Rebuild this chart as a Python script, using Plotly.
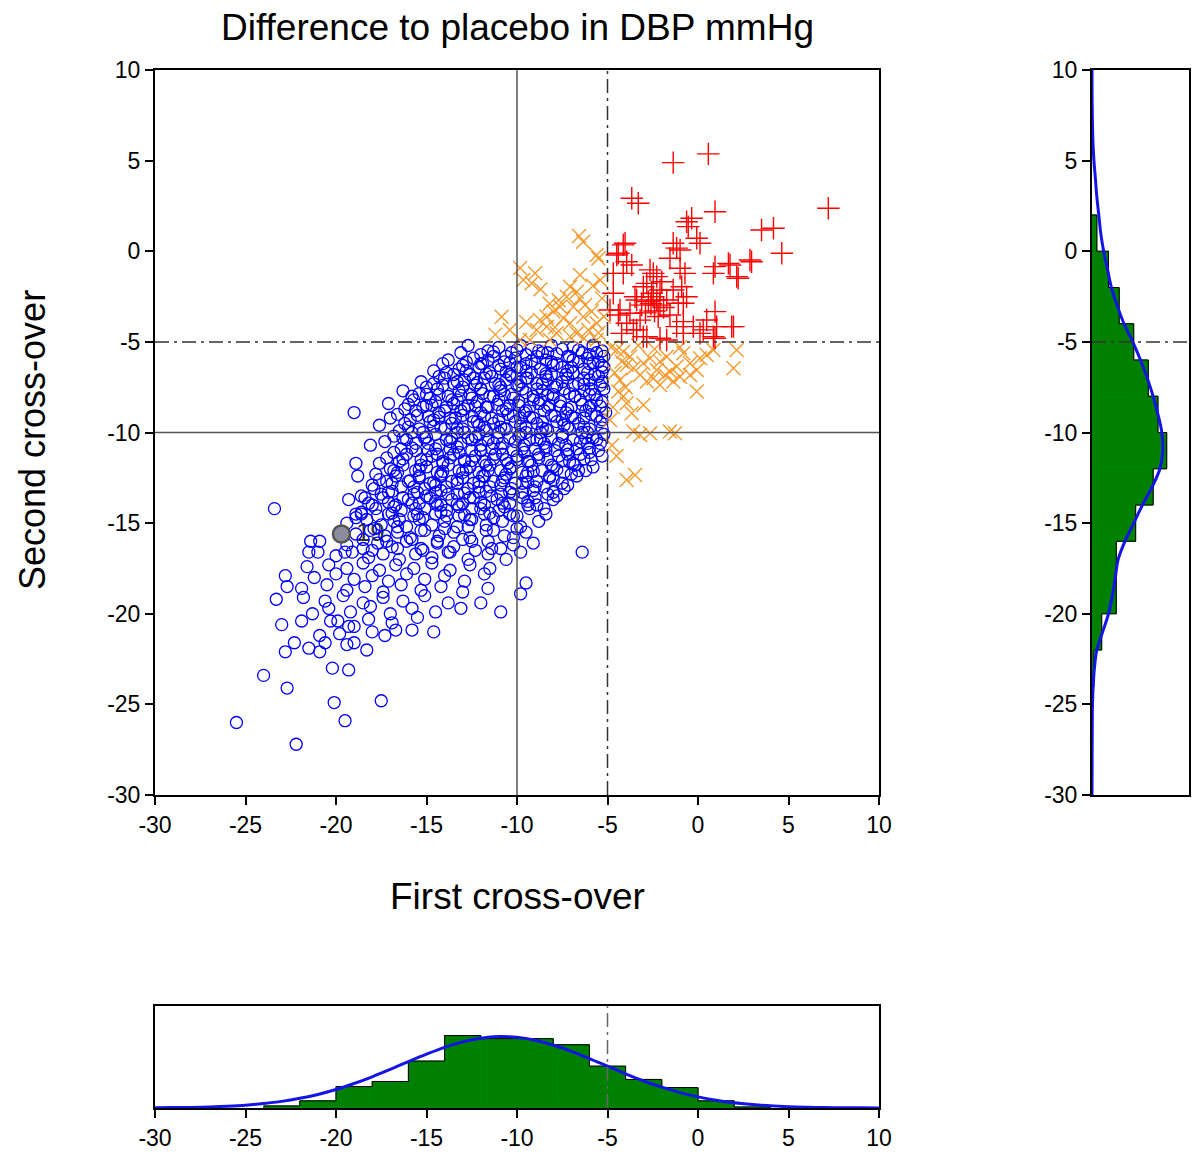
import plotly.graph_objects as go

# ---------------- data ----------------
blue_top = [
    (-12.7,-5.2),(-11.6,-5.5),(-11.0,-5.3),(-10.3,-5.6),(-9.8,-5.2),(-9.2,-5.4),(-8.6,-5.6),(-8.1,-5.2),(-7.5,-5.4),(-6.9,-5.3),(-6.4,-5.6),(-5.8,-5.2),(-5.3,-5.5),
    (-13.8,-6.0),(-12.4,-5.9),(-11.9,-6.2),(-11.3,-5.8),(-10.7,-6.1),(-10.1,-5.9),(-9.5,-6.2),(-8.9,-5.8),(-8.4,-6.0),(-7.8,-6.2),(-7.2,-5.8),(-6.6,-6.1),(-6.1,-5.9),(-5.5,-6.1),(-5.2,-5.8),
    (-14.6,-6.6),(-13.2,-6.5),(-12.6,-6.8),(-12.1,-6.4),(-11.5,-6.7),(-10.9,-6.5),(-10.4,-6.8),(-9.8,-6.4),(-9.2,-6.7),(-8.7,-6.5),(-8.1,-6.8),(-7.5,-6.4),(-6.9,-6.7),(-6.3,-6.5),(-5.7,-6.8),(-5.2,-6.4),
    (-15.3,-7.2),(-14.0,-7.0),(-13.5,-7.3),(-12.9,-7.1),(-12.3,-7.4),(-11.8,-7.0),(-11.2,-7.3),(-10.6,-7.1),(-10.0,-7.4),(-9.5,-7.0),(-8.9,-7.3),(-8.3,-7.1),(-7.8,-7.4),(-7.2,-7.0),(-6.6,-7.3),(-6.0,-7.1),(-5.4,-7.4),
    (-16.3,-7.7),(-15.0,-7.9),(-14.4,-7.6),(-13.8,-8.0),(-13.2,-7.7),(-12.6,-7.9),(-12.0,-7.6),(-11.5,-8.0),(-10.9,-7.7),(-10.3,-7.9),(-9.7,-7.6),(-9.1,-8.0),(-8.6,-7.7),(-8.0,-7.9),(-7.4,-7.6),(-6.8,-8.0),(-6.3,-7.7),(-5.7,-7.9),(-5.2,-7.6),
    (-17.1,-8.4),(-15.7,-8.2),(-15.0,-8.5),(-14.5,-8.3),(-13.9,-8.6),(-13.3,-8.2),(-12.7,-8.5),(-12.2,-8.3),(-11.6,-8.6),(-11.0,-8.2),(-10.4,-8.5),(-9.9,-8.3),(-9.3,-8.6),(-8.7,-8.2),(-8.2,-8.5),(-7.6,-8.3),(-7.0,-8.6),(-6.5,-8.2),(-5.9,-8.5),(-5.3,-8.3),
    (-19.0,-8.9),(-16.6,-9.0),(-15.6,-8.8),(-14.9,-9.1),(-14.3,-8.9),(-13.7,-9.2),(-13.1,-8.8),(-12.5,-9.1),(-12.0,-8.9),(-11.4,-9.2),(-10.8,-8.8),(-10.2,-9.1),(-9.6,-8.9),(-9.1,-9.2),(-8.5,-8.8),(-7.9,-9.1),(-7.3,-8.9),(-6.8,-9.2),(-6.2,-8.8),(-5.6,-9.1),(-5.1,-8.9),
    (-17.6,-9.6),(-16.2,-9.5),(-15.4,-9.8),(-14.8,-9.4),(-14.2,-9.7),(-13.6,-9.5),(-13.0,-9.8),(-12.4,-9.4),(-11.8,-9.7),(-11.3,-9.5),(-10.7,-9.8),(-10.1,-9.4),(-9.5,-9.7),(-8.9,-9.5),(-8.4,-9.8),(-7.8,-9.4),(-7.2,-9.7),(-6.6,-9.5),(-6.0,-9.8),(-5.4,-9.4),
]
blue_mid = [
    (-16.8,-10.2),(-15.8,-10.0),(-15.1,-10.3),(-14.5,-10.1),(-13.9,-10.4),(-13.3,-10.0),(-12.7,-10.3),(-12.1,-10.1),(-11.6,-10.4),(-11.0,-10.0),(-10.4,-10.3),(-9.8,-10.1),(-9.3,-10.4),(-8.7,-10.0),(-8.1,-10.3),(-7.5,-10.1),(-6.9,-10.4),(-6.4,-10.0),(-5.8,-10.3),(-5.2,-10.1),
    (-18.1,-10.7),(-16.4,-10.9),(-15.6,-10.6),(-14.9,-11.0),(-14.3,-10.7),(-13.7,-10.9),(-13.1,-10.6),(-12.5,-11.0),(-12.0,-10.7),(-11.4,-10.9),(-10.8,-10.6),(-10.2,-11.0),(-9.6,-10.7),(-9.0,-10.9),(-8.5,-10.6),(-7.9,-11.0),(-7.3,-10.7),(-6.7,-10.9),(-6.1,-10.6),(-5.5,-11.0),
    (-17.2,-11.4),(-16.1,-11.2),(-15.3,-11.5),(-14.7,-11.3),(-14.1,-11.6),(-13.5,-11.2),(-12.9,-11.5),(-12.3,-11.3),(-11.8,-11.6),(-11.2,-11.2),(-10.6,-11.5),(-10.0,-11.3),(-9.4,-11.6),(-8.8,-11.2),(-8.3,-11.5),(-7.7,-11.3),(-7.1,-11.6),(-6.5,-11.2),(-5.9,-11.5),(-5.3,-11.3),
    (-18.9,-11.7),(-17.0,-12.0),(-16.3,-11.8),(-15.6,-12.1),(-15.0,-11.9),(-14.4,-12.2),(-13.8,-11.8),(-13.2,-12.1),(-12.6,-11.9),(-12.1,-12.2),(-11.5,-11.8),(-10.9,-12.1),(-10.3,-11.9),(-9.7,-12.2),(-9.2,-11.8),(-8.6,-12.1),(-8.0,-11.9),(-7.4,-12.2),(-6.8,-11.8),(-6.2,-12.1),
    (-18.8,-12.4),(-17.6,-12.6),(-16.7,-12.4),(-16.0,-12.7),(-15.4,-12.5),(-14.8,-12.8),(-14.2,-12.4),(-13.6,-12.7),(-13.0,-12.5),(-12.4,-12.8),(-11.9,-12.4),(-11.3,-12.7),(-10.7,-12.5),(-10.1,-12.8),(-9.5,-12.4),(-8.9,-12.7),(-8.2,-12.5),(-7.5,-12.8),(-6.7,-12.4),
    (-17.9,-13.1),(-17.1,-13.3),(-16.4,-13.0),(-15.7,-13.4),(-15.1,-13.1),(-14.5,-13.3),(-13.9,-13.0),(-13.3,-13.4),(-12.7,-13.1),(-12.1,-13.3),(-11.5,-13.0),(-10.9,-13.4),(-10.3,-13.1),(-9.7,-13.3),(-9.0,-13.0),(-8.3,-13.4),(-7.4,-13.1),
    (-19.3,-13.7),(-18.2,-13.9),(-17.4,-13.6),(-16.7,-14.0),(-16.0,-13.7),(-15.4,-13.9),(-14.8,-13.6),(-14.2,-14.0),(-13.6,-13.7),(-13.0,-13.9),(-12.4,-13.6),(-11.8,-14.0),(-11.1,-13.7),(-10.4,-13.9),(-9.7,-13.6),(-8.9,-14.0),(-8.0,-13.7),
    (-18.6,-14.4),(-17.8,-14.2),(-17.1,-14.5),(-16.4,-14.3),(-15.7,-14.6),(-15.1,-14.2),(-14.5,-14.5),(-13.9,-14.3),(-13.2,-14.6),(-12.5,-14.2),(-11.8,-14.5),(-11.0,-14.3),(-10.2,-14.6),(-9.3,-14.2),(-8.4,-14.5),
    (-19.4,-15.0),(-18.3,-14.8),(-17.5,-15.1),(-16.8,-14.9),(-16.1,-15.2),(-15.4,-14.8),(-14.7,-15.1),(-14.0,-14.9),(-13.3,-15.2),(-12.5,-14.8),(-11.7,-15.1),(-10.8,-14.9),(-9.8,-15.2),(-8.8,-14.9),
]
blue_fill = [
    (-13.1,-5.6),(-12.0,-5.7),(-10.6,-5.8),(-9.5,-5.7),(-8.3,-5.6),(-7.1,-5.8),(-6.0,-5.7),
    (-14.1,-6.2),(-13.0,-6.3),(-12.0,-6.2),(-11.0,-6.3),(-10.0,-6.4),(-9.0,-6.2),(-8.0,-6.3),(-7.0,-6.4),(-6.0,-6.2),(-5.3,-6.3),
    (-14.3,-6.9),(-13.5,-6.8),(-12.4,-7.0),(-11.4,-6.9),(-10.3,-6.9),(-9.4,-7.0),(-8.4,-6.9),(-7.3,-6.8),(-6.3,-7.0),(-5.5,-6.9),
    (-15.0,-7.5),(-14.1,-7.4),(-13.0,-7.5),(-12.0,-7.6),(-10.9,-7.5),(-9.9,-7.4),(-8.9,-7.6),(-7.9,-7.5),(-6.9,-7.4),(-5.9,-7.6),
    (-15.8,-8.0),(-14.8,-8.1),(-13.6,-8.2),(-12.5,-8.1),(-11.3,-8.0),(-10.2,-8.1),(-9.1,-8.2),(-8.0,-8.1),(-6.8,-8.0),(-5.6,-8.2),
    (-16.2,-8.7),(-15.2,-8.6),(-14.0,-8.8),(-12.9,-8.7),(-11.7,-8.6),(-10.6,-8.7),(-9.5,-8.8),(-8.3,-8.6),(-7.2,-8.7),(-6.0,-8.6),
    (-17.0,-9.2),(-15.9,-9.3),(-14.6,-9.3),(-13.4,-9.2),(-12.2,-9.4),(-11.0,-9.3),(-9.8,-9.2),(-8.6,-9.4),(-7.5,-9.3),(-6.3,-9.2),(-5.3,-9.3),
    (-16.5,-9.9),(-15.2,-10.0),(-14.0,-9.8),(-12.9,-10.0),(-11.7,-9.9),(-10.6,-9.8),(-9.5,-10.0),(-8.3,-9.9),(-7.1,-9.8),(-6.1,-10.0),
    (-17.3,-10.5),(-16.1,-10.4),(-14.9,-10.6),(-13.7,-10.5),(-12.5,-10.4),(-11.3,-10.6),(-10.1,-10.5),(-8.9,-10.4),(-7.7,-10.6),(-6.5,-10.5),(-5.4,-10.6),
    (-16.8,-11.1),(-15.6,-11.0),(-14.4,-11.2),(-13.2,-11.1),(-12.0,-11.0),(-10.8,-11.2),(-9.6,-11.1),(-8.4,-11.0),(-7.2,-11.2),(-6.0,-11.1),
    (-17.6,-11.7),(-16.5,-11.6),(-15.3,-11.8),(-14.1,-11.7),(-12.9,-11.6),(-11.7,-11.8),(-10.5,-11.7),(-9.3,-11.6),(-8.1,-11.8),(-6.9,-11.7),(-5.8,-11.9),
    (-17.8,-12.3),(-16.6,-12.2),(-15.4,-12.4),(-14.2,-12.3),(-13.0,-12.2),(-11.8,-12.4),(-10.6,-12.3),(-9.4,-12.2),(-8.2,-12.4),(-7.0,-12.3),
    (-18.0,-12.9),(-16.9,-12.8),(-15.7,-13.0),(-14.5,-12.9),(-13.3,-12.8),(-12.1,-13.0),(-10.9,-12.9),(-9.7,-12.8),(-8.5,-13.0),(-7.2,-12.9),
    (-18.6,-13.5),(-17.5,-13.4),(-16.3,-13.6),(-15.0,-13.5),(-13.8,-13.4),(-12.6,-13.6),(-11.4,-13.5),(-10.2,-13.4),(-9.0,-13.6),(-7.8,-13.5),
    (-18.0,-14.0),(-16.8,-14.1),(-15.6,-14.2),(-14.4,-14.0),(-13.2,-14.1),(-12.0,-14.2),(-10.7,-14.1),(-9.4,-14.0),(-8.5,-14.2),
    (-18.9,-14.7),(-17.7,-14.6),(-16.5,-14.8),(-15.2,-14.7),(-13.9,-14.6),(-12.6,-14.8),(-11.3,-14.7),(-10.0,-14.6),
    (-17.9,-15.3),(-16.6,-15.2),(-15.3,-15.4),(-14.0,-15.3),(-12.7,-15.2),(-11.3,-15.4),(-10.0,-15.3),
    (-18.5,-15.9),(-17.2,-16.0),(-15.8,-15.9),(-14.4,-16.0),(-13.0,-15.9),(-11.6,-16.0),(-10.2,-15.8),
    (-19.5,-16.6),(-18.0,-16.5),(-16.6,-16.4),(-15.2,-16.5),(-13.8,-16.6),(-12.3,-16.5),(-10.9,-16.4),
]
blue_core = [
    (-11.3,-5.55),(-10.0,-5.45),(-8.8,-5.5),(-7.8,-5.65),(-6.6,-5.45),(-5.6,-5.6),
    (-12.8,-6.1),(-11.6,-6.0),(-10.4,-6.15),(-9.2,-6.05),(-8.1,-6.1),(-6.9,-6.0),(-5.8,-6.15),
    (-13.9,-6.7),(-12.8,-6.6),(-11.7,-6.75),(-10.6,-6.65),(-9.5,-6.6),(-8.4,-6.75),(-7.2,-6.6),(-6.1,-6.7),(-5.3,-6.65),
    (-14.6,-7.3),(-13.3,-7.2),(-12.2,-7.25),(-11.0,-7.35),(-9.8,-7.2),(-8.6,-7.3),(-7.5,-7.2),(-6.3,-7.35),(-5.3,-7.2),
    (-15.4,-7.85),(-14.3,-7.9),(-13.1,-7.95),(-11.9,-7.85),(-10.7,-7.9),(-9.5,-7.8),(-8.3,-7.95),(-7.1,-7.85),(-6.0,-7.9),
    (-16.0,-8.45),(-14.7,-8.5),(-13.5,-8.4),(-12.3,-8.55),(-11.1,-8.45),(-9.9,-8.5),(-8.8,-8.4),(-7.6,-8.55),(-6.4,-8.45),(-5.4,-8.55),
    (-15.5,-9.05),(-14.3,-9.15),(-13.0,-9.05),(-11.8,-9.1),(-10.5,-9.0),(-9.3,-9.15),(-8.1,-9.05),(-7.0,-9.1),(-5.9,-9.0),
    (-16.0,-9.7),(-14.6,-9.65),(-13.3,-9.75),(-12.1,-9.6),(-10.9,-9.7),(-9.8,-9.65),(-8.6,-9.75),(-7.4,-9.6),(-6.3,-9.7),(-5.3,-9.75),
    (-16.3,-10.3),(-15.0,-10.25),(-13.6,-10.35),(-12.3,-10.25),(-11.1,-10.3),(-9.9,-10.2),(-8.7,-10.35),(-7.5,-10.25),(-6.2,-10.3),(-5.6,-10.4),
    (-15.8,-10.85),(-14.5,-10.9),(-13.3,-10.8),(-12.0,-10.95),(-10.9,-10.85),(-9.7,-10.9),(-8.4,-10.8),(-7.2,-10.95),(-6.0,-10.85),
    (-16.3,-11.45),(-15.0,-11.5),(-13.7,-11.4),(-12.5,-11.55),(-11.3,-11.45),(-10.0,-11.5),(-8.8,-11.4),(-7.5,-11.55),(-6.3,-11.45),
    (-16.8,-12.1),(-15.4,-12.05),(-14.1,-12.15),(-12.8,-12.05),(-11.6,-12.1),(-10.4,-12.0),(-9.1,-12.15),(-7.8,-12.05),(-6.6,-12.1),
    (-17.2,-12.7),(-15.9,-12.65),(-14.6,-12.75),(-13.3,-12.6),(-12.1,-12.7),(-10.8,-12.65),(-9.4,-12.75),(-8.0,-12.6),
    (-16.9,-13.25),(-15.5,-13.3),(-14.2,-13.2),(-12.9,-13.35),(-11.7,-13.25),(-10.4,-13.3),(-9.1,-13.2),(-8.0,-13.3),
    (-17.1,-13.85),(-15.8,-13.9),(-14.5,-13.8),(-13.3,-13.95),(-12.0,-13.85),(-10.8,-13.9),(-9.4,-13.8),
    (-16.9,-14.45),(-15.5,-14.5),(-14.2,-14.4),(-12.9,-14.55),(-11.5,-14.45),(-10.4,-14.5),
]
blue_low = [
    (-18.9,-15.6),(-18.1,-15.4),(-17.3,-15.7),(-16.6,-15.5),(-15.9,-15.8),(-15.1,-15.4),(-14.3,-15.7),(-13.5,-15.5),(-12.6,-15.8),(-11.7,-15.4),(-10.7,-15.7),(-9.5,-15.5),
    (-21.4,-16.0),(-20.9,-16.0),(-21.5,-16.6),(-21.0,-16.6),(-19.4,-16.2),(-18.5,-16.4),(-17.7,-16.1),(-16.9,-16.3),(-16.1,-16.0),(-15.3,-16.4),(-14.4,-16.1),(-13.5,-16.3),(-12.5,-16.0),(-11.4,-16.4),(-10.2,-16.2),(-9.1,-16.1),
    (-20.0,-16.8),(-19.1,-16.6),(-18.2,-16.9),(-17.4,-16.7),(-16.5,-17.0),(-15.6,-16.7),(-14.7,-16.9),(-13.7,-16.6),(-12.7,-17.0),(-11.6,-16.7),(-10.6,-17.0),(-9.8,-16.6),(-6.4,-16.6),
    (-21.6,-17.4),(-20.4,-17.3),(-19.4,-17.5),(-18.5,-17.2),(-17.6,-17.6),(-16.7,-17.3),(-15.7,-17.5),(-14.7,-17.2),(-13.7,-17.6),(-12.6,-17.3),(-11.5,-17.5),
    (-22.8,-17.9),(-21.2,-18.0),(-20.0,-17.8),(-19.0,-18.1),(-18.0,-17.9),(-17.1,-18.2),(-16.1,-17.8),(-15.1,-18.1),(-14.0,-17.9),(-12.9,-18.2),(-11.8,-17.8),(-9.5,-18.3),
    (-22.7,-18.5),(-21.9,-18.6),(-20.5,-18.4),(-19.4,-18.7),(-18.4,-18.5),(-17.4,-18.8),(-16.4,-18.4),(-15.3,-18.7),(-14.2,-18.5),(-13.0,-18.8),(-11.6,-18.6),(-9.8,-18.9),
    (-23.3,-19.2),(-21.8,-19.1),(-20.6,-19.3),(-19.6,-19.0),(-18.5,-19.4),(-17.4,-19.1),(-16.3,-19.3),(-15.1,-19.0),(-13.8,-19.4),(-12.0,-19.4),(-10.9,-19.9),
    (-21.3,-20.0),(-20.4,-19.7),(-19.2,-19.9),(-18.1,-19.6),(-17.0,-20.0),(-15.8,-19.7),(-14.5,-19.9),(-13.1,-19.7),
    (-23.0,-20.6),(-21.9,-20.4),(-20.3,-20.4),(-19.9,-20.4),(-19.3,-20.7),(-19.0,-20.7),(-18.2,-20.3),(-16.9,-20.5),(-15.5,-20.2),
    (-19.8,-21.1),(-16.7,-20.9),(-15.8,-20.9),(-14.6,-21.0),(-18.0,-21.0),(-20.9,-21.2),(-17.3,-21.2),
    (-22.3,-21.6),(-21.5,-21.9),(-20.9,-22.1),(-20.6,-21.6),(-19.4,-21.7),(-19.0,-21.6),(-22.8,-22.1),(-18.3,-22.0),
]
blue_sparse = [
    (-20.2,-23.0),(-19.3,-23.1),(-24.0,-23.4),(-22.7,-24.1),(-20.1,-24.9),(-19.5,-25.9),(-17.5,-24.8),
    (-25.5,-26.0),(-22.2,-27.2),(-23.4,-14.2),(-18.4,-13.6),(-18.9,-14.5),(-18.6,-14.5),
]
highlight_point = (-19.7, -15.6)
highlight_label = "19"

orange_points = [
    (-6.57,0.84),(-6.35,0.53),(-5.6,-0.21),(-5.5,-0.4),(-9.83,-0.93),(-9.65,-1.59),(-9.19,-1.77),(-9.0,-1.22),
    (-6.52,-1.31),(-7.07,-1.96),(-6.7,-2.23),(-7.25,-2.51),(-6.52,-2.6),(-6.24,-2.97),(-6.89,-3.06),(-7.62,-3.06),
    (-7.99,-3.33),(-8.36,-3.61),(-8.73,-3.79),(-7.44,-3.7),(-7.07,-3.97),(-6.34,-3.61),(-5.88,-3.33),(-5.6,-3.97),
    (-6.06,-4.34),(-6.7,-4.53),(-7.07,-4.71),(-7.81,-4.53),(-10.85,-3.61),(-10.4,-4.34),(-9.83,-4.9),(-8.91,-4.34),
    (-8.36,-4.16),(-9.28,-4.9),(-8.18,-4.9),(-5.6,-4.9),(-8.7,-2.1),(-5.4,-1.6),(-5.3,-2.6),(-5.8,-1.9),(-7.7,-2.7),
    (-8.2,-2.9),(-7.9,-4.2),(-6.3,-4.8),(-5.2,-3.6),(-5.5,-4.5),(-9.5,-3.9),(-11.2,-4.6),
    (2.14,-5.45),(1.96,-6.46),(0.85,-5.45),(0.48,-5.72),(0.11,-5.9),(-0.07,-6.55),(-0.44,-6.83),(-0.07,-7.74),
    (-1.18,-6.36),(-1.55,-6.64),(-0.99,-6.92),(-1.36,-7.19),(-1.82,-6.83),(-2.28,-6.55),(-2.47,-7.01),(-2.1,-7.38),
    (-2.83,-7.19),(-3.2,-6.83),(-3.57,-6.46),(-3.94,-6.28),(-4.22,-6.09),(-4.49,-5.45),(-4.13,-5.54),(-3.76,-5.82),
    (-3.02,-6.18),(-2.65,-5.91),(-2.1,-6.09),(-1.73,-5.82),(-0.81,-5.63),(-0.44,-6.18),(-4.13,-8.02),(-4.4,-7.74),
    (-3.94,-8.39),(-3.02,-8.48),(-3.66,-8.94),(-4.86,-9.31),(-3.57,-9.95),(-3.2,-10.14),(-2.65,-10.04),(-1.55,-9.95),
    (-1.27,-10.04),(-3.94,-12.62),(-3.48,-12.34),(-4.31,-7.1),(-4.6,-6.7),(-4.8,-5.3),(-4.7,-8.6),(-4.75,-10.7),
    (-4.5,-11.3),(-2.4,-5.4),(-1.0,-5.3),(-3.3,-5.2),(-4.0,-7.5),
]
red_points = [
    (0.57,5.37),(-1.37,4.89),(-3.66,2.92),(-3.3,2.65),(0.94,2.18),(7.2,2.37),(-0.63,1.63),(-0.54,1.36),(-0.35,1.82),
    (-0.07,0.72),(3.51,1.17),(4.17,1.27),(4.63,-0.11),(2.96,-0.58),(-4.03,0.44),(-4.4,-0.11),(-3.94,-0.58),(-3.66,-0.76),
    (-1.37,0.44),(-1.18,0.17),(-1.55,-0.39),(-0.99,-0.94),(-0.72,-1.22),(0.94,-0.85),(0.85,-1.22),(1.77,-0.76),(2.22,-1.49),
    (-2.65,-1.03),(-2.28,-1.4),(-2.0,-1.68),(-3.02,-1.96),(-2.56,-2.32),(-2.28,-2.69),(-2.74,-2.78),(-2.1,-2.97),(-3.11,-2.97),
    (-3.48,-2.51),(-1.37,-2.14),(-0.9,-1.96),(-0.63,-2.51),(-1.09,-2.87),(-4.68,-2.32),(-4.86,-3.24),(-4.4,-3.52),(-3.94,-3.97),
    (-3.57,-4.34),(-4.22,-4.53),(-1.55,-3.52),(-0.81,-3.88),(-0.26,-4.16),(0.11,-4.53),(0.48,-3.79),(0.94,-3.33),(1.86,-4.16),
    (-3.02,-4.71),(-2.1,-4.8),(-1.73,-4.9),(0.94,-4.8),(-4.13,0.35),(-4.49,-0.21),(-4.13,-1.22),(-4.68,-1.22),(-0.99,0.07),
    (0.11,0.44),(1.68,-0.67),(2.14,-1.4),(-2.47,-1.22),(-2.83,-1.77),(-2.1,-2.14),(-2.47,-2.51),(-1.73,-2.69),(-0.81,-2.87),
    (-4.31,-3.24),(-3.76,-3.42),(-3.39,-2.69),(-3.39,-4.34),(-2.83,-4.71),(-1.18,-4.16),(-0.81,-4.53),(0.29,-4.34),(0.85,-4.71),
    (1.03,-4.16),(1.96,-4.16),(2.87,-0.48),(-2.6,-2.9),(-2.4,-3.3),(-2.9,-3.4),(-2.2,-3.6),(-1.9,-3.1),(-3.2,-3.8),
]

# histogram of first cross-over (bottom): bin edges and relative heights
first_edges = [-24, -22, -20, -18, -16, -14, -12, -10, -8, -6, -4, -2, 0, 2, 4]
first_heights = [0.02, 0.07, 0.21, 0.26, 0.46, 0.71, 0.68, 0.68, 0.62, 0.41, 0.28, 0.20, 0.07, 0.01]
first_curve_x = list(range(-30, 11))
first_curve_y = [0.002,0.004,0.006,0.011,0.018,0.028,0.044,0.065,0.095,0.133,0.181,0.240,0.306,0.379,0.455,
                 0.528,0.595,0.648,0.684,0.700,0.693,0.665,0.618,0.556,0.485,0.410,0.335,0.265,0.204,0.151,
                 0.109,0.076,0.051,0.034,0.021,0.013,0.008,0.004,0.003,0.002,0.001]

# histogram of second cross-over (right)
second_edges = [-24, -22, -20, -18, -16, -14, -12, -10, -8, -6, -4, -2, 0, 2]
second_heights = [0.02, 0.10, 0.25, 0.25, 0.45, 0.63, 0.77, 0.68, 0.58, 0.43, 0.28, 0.17, 0.05]
second_curve_y = [10, 8, 6, 5, 4, 3, 2, 1, 0, -1, -2, -3, -4, -5, -6, -7, -8, -9, -10, -11, -12, -13, -14,
                  -15, -16, -17, -18, -19, -20, -21, -22, -23, -24, -25, -27, -30]
second_curve_x = [0.0, 0.002, 0.01, 0.02, 0.035, 0.05, 0.07, 0.09, 0.12, 0.16, 0.20, 0.26, 0.33, 0.42, 0.50,
                  0.57, 0.63, 0.68, 0.72, 0.73, 0.70, 0.62, 0.52, 0.43, 0.34, 0.27, 0.24, 0.21, 0.17, 0.11,
                  0.05, 0.025, 0.012, 0.005, 0.002, 0.0]

ticks = [-30, -25, -20, -15, -10, -5, 0, 5, 10]
tick_labels = ["-30", "-25", "-20", "-15", "-10", "-5", "0", "5", "10"]
title_text = "Difference to placebo in DBP mmHg"
x_title = "First cross-over"
y_title = "Second cross-over"

# ---------------- figure ----------------
OX, OY = 8, 8          # page offset of the plot div
W, H = 1183, 1148      # keeps the page within the window (no scrollbars)
FONT = "Liberation Sans, Arial, sans-serif"
BLUE = "#0000FF"
ORANGE = "#F39A2E"
RED = "#FF0000"
GREEN = "#008000"

def px_x(p):
    return min(1.0, max(0.0, (p - OX) / W))

def px_y(p):
    return min(1.0, max(0.0, 1 - (p - OY) / H))

main_xd = [px_x(155), px_x(879)]
main_yd = [px_y(795), px_y(70)]
right_xd = [px_x(1092), px_x(1189)]
bottom_yd = [px_y(1108), px_y(1006)]

fig = go.Figure()

# partially hidden label under the circles
fig.add_trace(go.Scatter(x=[highlight_point[0] + 0.8], y=[highlight_point[1]], mode="text",
                         text=[highlight_label], textposition="middle right",
                         textfont=dict(family=FONT, size=26, color="#333333"),
                         hoverinfo="skip", showlegend=False))

blue_all = blue_top + blue_fill + blue_core + blue_mid + blue_low + blue_sparse
fig.add_trace(go.Scatter(x=[p[0] for p in blue_all], y=[p[1] for p in blue_all], mode="markers",
                         marker=dict(symbol="circle-open", size=12, color=BLUE, line=dict(width=1.3, color=BLUE)),
                         showlegend=False))
fig.add_trace(go.Scatter(x=[highlight_point[0]], y=[highlight_point[1]], mode="markers",
                         marker=dict(symbol="circle", size=17, color="#8C8C9C", line=dict(width=2.5, color="#555555")),
                         showlegend=False))
fig.add_trace(go.Scatter(x=[p[0] for p in orange_points], y=[p[1] for p in orange_points], mode="markers",
                         marker=dict(symbol="x-thin-open", size=14, color=ORANGE, line=dict(width=1.4, color=ORANGE)),
                         showlegend=False))
fig.add_trace(go.Scatter(x=[p[0] for p in red_points], y=[p[1] for p in red_points], mode="markers",
                         marker=dict(symbol="cross-thin-open", size=16, color=RED, line=dict(width=1.4, color=RED)),
                         showlegend=False))

# bottom histogram
fc = [(first_edges[i] + first_edges[i + 1]) / 2 for i in range(len(first_heights))]
fig.add_trace(go.Bar(x=fc, y=first_heights, width=2, marker=dict(color=GREEN, line=dict(width=1, color=GREEN)),
                     xaxis="x3", yaxis="y3", showlegend=False))
fig.add_trace(go.Scatter(x=first_edges, y=first_heights + [0], mode="lines", line=dict(shape="hv", color="black", width=1),
                         xaxis="x3", yaxis="y3", showlegend=False))
fig.add_trace(go.Scatter(x=first_curve_x, y=first_curve_y, mode="lines", line=dict(color="#1414E6", width=3, shape="spline"),
                         xaxis="x3", yaxis="y3", showlegend=False))

# right histogram
sc = [(second_edges[i] + second_edges[i + 1]) / 2 for i in range(len(second_heights))]
fig.add_trace(go.Bar(y=sc, x=second_heights, width=2, orientation="h", marker=dict(color=GREEN, line=dict(width=1, color=GREEN)),
                     xaxis="x2", yaxis="y2", showlegend=False))
fig.add_trace(go.Scatter(x=second_heights + [0], y=second_edges, mode="lines", line=dict(shape="vh", color="black", width=1),
                         xaxis="x2", yaxis="y2", showlegend=False))
fig.add_trace(go.Scatter(x=second_curve_x, y=second_curve_y, mode="lines", line=dict(color="#1414E6", width=3, shape="spline"),
                         xaxis="x2", yaxis="y2", showlegend=False))

axis_common = dict(showgrid=False, zeroline=False, showline=True, linecolor="black", linewidth=2, mirror=True,
                   automargin=False, tickfont=dict(family=FONT, size=23, color="black"))
tick_common = dict(tickvals=ticks, ticktext=tick_labels, ticks="outside", ticklen=8, tickwidth=2, tickcolor="black")

fig.update_layout(
    width=W, height=H, margin=dict(l=0, r=0, t=0, b=0, pad=0, autoexpand=False),
    paper_bgcolor="white", plot_bgcolor="white", showlegend=False, barmode="overlay",
    xaxis=dict(domain=main_xd, range=[-30, 10], anchor="y", **tick_common, **axis_common),
    yaxis=dict(domain=main_yd, range=[-30, 10], anchor="x", **tick_common, **axis_common),
    xaxis2=dict(domain=right_xd, range=[0, 1], showticklabels=False, ticks="", anchor="y2", **axis_common),
    yaxis2=dict(domain=main_yd, range=[-30, 10], anchor="x2", **tick_common, **axis_common),
    xaxis3=dict(domain=main_xd, range=[-30, 10], anchor="y3", **tick_common, **axis_common),
    yaxis3=dict(domain=bottom_yd, range=[0, 1], showticklabels=False, ticks="", anchor="x3", **axis_common),
)

# reference lines
DD = "14px,5px,3px,5px"
line_solid = dict(color="#555555", width=1.5)
line_dd = dict(color="#333333", width=1.5, dash=DD)
fig.add_shape(type="line", xref="x", yref="y", x0=-10, x1=-10, y0=-30, y1=10, line=line_solid, layer="above")
fig.add_shape(type="line", xref="x", yref="y", x0=-30, x1=10, y0=-10, y1=-10, line=line_solid, layer="above")
fig.add_shape(type="line", xref="x", yref="y", x0=-5, x1=-5, y0=-30, y1=10, line=line_dd, layer="above")
fig.add_shape(type="line", xref="x", yref="y", x0=-30, x1=10, y0=-5, y1=-5, line=line_dd, layer="above")
fig.add_shape(type="line", xref="x2", yref="y2", x0=0, x1=1, y0=-5, y1=-5, line=line_dd, layer="above")
fig.add_shape(type="line", xref="x3", yref="y3", x0=-5, x1=-5, y0=0, y1=1, line=dict(color="#666666", width=1.5, dash=DD), layer="above")

# titles
fig.add_annotation(text=title_text, xref="paper", yref="paper", x=px_x(517), y=px_y(28), showarrow=False,
                   font=dict(family=FONT, size=37, color="black"), xanchor="center", yanchor="middle")
fig.add_annotation(text=x_title, xref="paper", yref="paper", x=px_x(517), y=px_y(896), showarrow=False,
                   font=dict(family=FONT, size=37, color="black"), xanchor="center", yanchor="middle")
fig.add_annotation(text=y_title, xref="paper", yref="paper", x=px_x(32), y=px_y(440), showarrow=False,
                   textangle=-90, font=dict(family=FONT, size=36, color="black"), xanchor="center", yanchor="middle")

fig.write_html("out.html")
